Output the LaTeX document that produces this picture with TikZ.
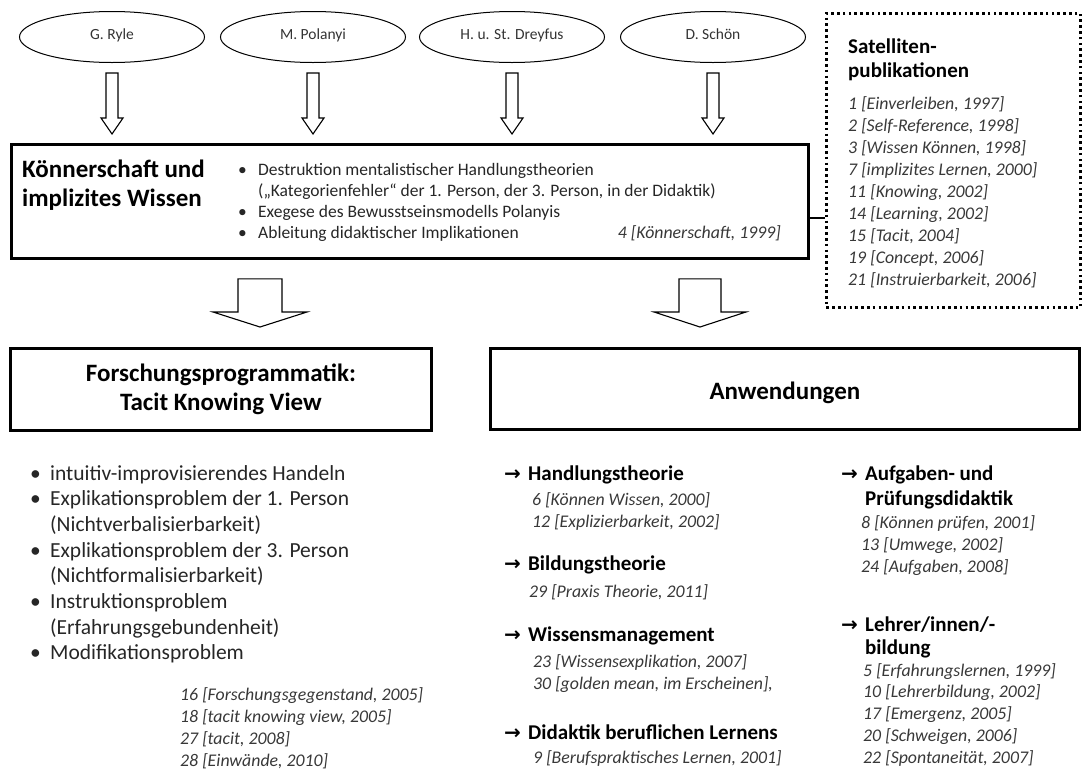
\documentclass[tikz,border=0pt]{standalone}
\usepackage{fontspec}
\setmainfont{Carlito}
\newfontfamily\symfont{DejaVu Sans}
\usetikzlibrary{calc,shapes.geometric}

\newcommand{\zeilen}[1]{\begin{tabular}[t]{@{}l@{}}#1\end{tabular}}
\newcommand{\punkt}{\makebox[20pt][l]{•}}

\tikzset{
  person/.style={draw, ellipse, line width=1pt, minimum width=185pt, minimum height=51pt,
    inner sep=0pt, text height=0.72em, text depth=0.22em, text=black!80,
    font=\fontsize{15.5}{18}\selectfont},
  bigbox/.style={draw, line width=2.8pt, inner sep=0pt},
  satbox/.style={draw, line width=2.6pt, dash pattern=on 2.6pt off 3.2pt, inner sep=0pt},
  hollow/.style n args={3}{fill=white, line width=1.1pt, to path={
    let \p1=(\tikztostart), \p2=(\tikztotarget) in
    (\x1-#1,\y1) -- (\x1-#1,\y2+#3) -- (\x1-#2,\y2+#3) -- (\x1,\y2)
    -- (\x1+#2,\y2+#3) -- (\x1+#1,\y2+#3) -- (\x1+#1,\y1) -- cycle}},
  txt/.style={anchor=base west, inner sep=0pt},
  maintitle/.style={txt, font=\bfseries\fontsize{25}{29}\selectfont},
  mainlist/.style={txt, text=black!85, font=\fontsize{17.5}{21}\selectfont},
  subhead/.style={txt, font=\bfseries\fontsize{21}{24.5}\selectfont},
  head/.style={txt, font=\bfseries\fontsize{21}{25}\selectfont},
  liste/.style={txt, text=black!85, font=\fontsize{21.5}{25.7}\selectfont},
  ref/.style={txt, text=black!78, font=\itshape\fontsize{17.8}{22}\selectfont},
  boxtitle/.style={align=center, inner sep=0pt, font=\bfseries\fontsize{25}{28.5}\selectfont},
  pfeil/.style={txt, font=\symfont\bfseries\fontsize{20}{20}\selectfont}
}

\begin{document}
\begin{tikzpicture}[x=1pt, y=-1pt]
\useasboundingbox (0,0) rectangle (1083,769);

% Vordenker
\node[person] (ryle) at (112,37) {G. Ryle};
\node[person] (polanyi) at (313,37) {M. Polanyi};
\node[person] (dreyfus) at (512,37) {H. u. St. Dreyfus};
\node[person] (schoen) at (713,37) {D. Schön};

% Hauptkasten
\node[bigbox, anchor=north west, minimum width=797pt, minimum height=114pt] (main) at (10,143) {};
\node[maintitle] (main-t) at (22,177) {\zeilen{Könnerschaft und\\implizites Wissen}};
\node[mainlist] (main-l) at (238,175) {\begin{tabular}[t]{@{}l@{}l@{}}
  \punkt & Destruktion mentalistischer Handlungstheorien\\
         & („Kategorienfehler“ der 1. Person, der 3. Person, in der Didaktik)\\
  \punkt & Exegese des Bewusstseinsmodells Polanyis\\
  \punkt & Ableitung didaktischer Implikationen
  \end{tabular}};
\node[ref, anchor=base east] (main-r) at (781,238) {4 [Könnerschaft, 1999]};

% Pfeile oben
\foreach \p in {ryle, polanyi, dreyfus, schoen}
  \draw[hollow={6}{11}{16}] ($(\p.south)+(0,10)$) to ($(\p.south |- main.north)+(0,-9)$);

% Satellitenpublikationen
\node[satbox, anchor=north west, minimum width=254pt, minimum height=294pt] (sat) at (825,12) {};
\node[subhead] (sat-t) at (848,53) {\zeilen{Satelliten-\\publikationen}};
\node[ref] (sat-r) at (848,109) {\zeilen{1 [Einverleiben, 1997]\\
  2 [Self-Reference, 1998]\\
  3 [Wissen Können, 1998]\\
  7 [implizites Lernen, 2000]\\
  11 [Knowing, 2002]\\
  14 [Learning, 2002]\\
  15 [Tacit, 2004]\\
  19 [Concept, 2006]\\
  21 [Instruierbarkeit, 2006]}};
\coordinate (link) at ($(main.east)+(0,17)$);
\draw[line width=2pt] (link) -- (link -| sat.west);

% Untere Kaesten
\node[bigbox, anchor=north west, minimum width=421pt, minimum height=82pt] (forsch) at (9,347) {};
\node[boxtitle] (forsch-t) at (forsch.center) {Forschungsprogrammatik:\\Tacit Knowing View};
\node[bigbox, anchor=north west, minimum width=589pt, minimum height=81pt] (anw) at (489,347) {};
\node[boxtitle] (anw-t) at ($(anw.center)+(0,4)$) {Anwendungen};

% Pfeile unten
\coordinate (la) at ($(main.south west)+(250,19)$);
\coordinate (ra) at ($(main.south west)+(690,19)$);
\draw[hollow={22}{47}{15}] (la) to ($(la |- forsch.north)+(0,-20)$);
\draw[hollow={21}{46}{15}] (ra) to ($(ra |- anw.north)+(0,-20)$);

% Tacit Knowing View
\node[liste] (tkv-l) at (30,480) {\begin{tabular}[t]{@{}l@{}l@{}}
  \punkt & intuitiv-improvisierendes Handeln\\
  \punkt & Explikationsproblem der 1. Person\\
         & (Nichtverbalisierbarkeit)\\
  \punkt & Explikationsproblem der 3. Person\\
         & (Nichtformalisierbarkeit)\\
  \punkt & Instruktionsproblem\\
         & (Erfahrungsgebundenheit)\\
  \punkt & Modifikationsproblem
  \end{tabular}};
\node[ref] (tkv-r) at (180,700) {\zeilen{16 [Forschungsgegenstand, 2005]\\
  18 [tacit knowing view, 2005]\\
  27 [tacit, 2008]\\
  28 [Einwände, 2010]}};

% Anwendungen links
\node[head] (handl) at (528,480) {Handlungstheorie};
\node[ref] (handl-r) at (532,505) {\zeilen{6 [Können Wissen, 2000]\\12 [Explizierbarkeit, 2002]}};
\node[head] (bild) at (528,570) {Bildungstheorie};
\node[ref] (bild-r) at (529,597) {29 [Praxis Theorie, 2011]};
\node[head] (wiss) at (528,641) {Wissensmanagement};
\node[ref] (wiss-r) at (533,667) {\zeilen{23 [Wissensexplikation, 2007]\\30 [golden mean, im Erscheinen],}};
\node[head] (did) at (528,739) {Didaktik beruflichen Lernens};
\node[ref] (did-r) at (533,763) {9 [Berufspraktisches Lernen, 2001]};

% Anwendungen rechts
\node[head] (aufg) at (865,480) {\zeilen{Aufgaben- und\\Prüfungsdidaktik}};
\node[ref] (aufg-r) at (861,528) {\zeilen{8 [Können prüfen, 2001]\\13 [Umwege, 2002]\\24 [Aufgaben, 2008]}};
\node[head, font=\bfseries\fontsize{21}{23}\selectfont] (lehr) at (865,631) {\zeilen{Lehrer/innen/-\\bildung}};
\node[ref, font=\itshape\fontsize{17.8}{21.8}\selectfont] (lehr-r) at (863,676) {\zeilen{5 [Erfahrungslernen, 1999]\\
  10 [Lehrerbildung, 2002]\\
  17 [Emergenz, 2005]\\
  20 [Schweigen, 2006]\\
  22 [Spontaneität, 2007]}};

\foreach \n in {handl, bild, wiss, did, aufg, lehr}
  \node[pfeil] (pf-\n) at ([xshift=-24pt]\n.base west) {→};
\end{tikzpicture}
\end{document}
